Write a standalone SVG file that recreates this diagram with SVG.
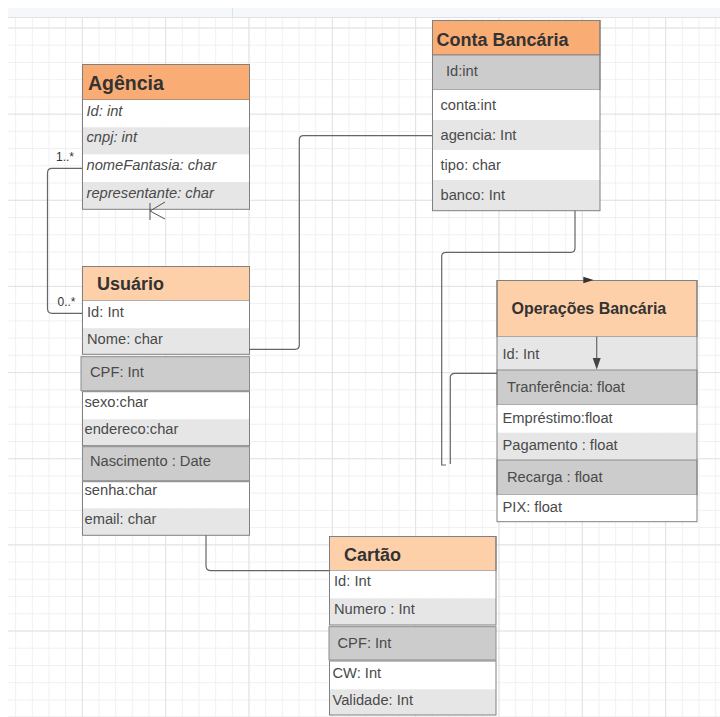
<svg xmlns="http://www.w3.org/2000/svg" width="720" height="717" viewBox="0 0 720 717">
<style>
.hd{font-family:"Liberation Sans",Arial,sans-serif;font-weight:bold;fill:#333;}
.at{font-family:"Liberation Sans",Arial,sans-serif;font-size:14.7px;fill:#4a4a4a;}
.it{font-style:italic;}
.lb{font-family:"Liberation Sans",Arial,sans-serif;font-size:12px;fill:#333;}
.box{fill:none;stroke:#808080;stroke-width:1;}
.hs{fill:#f9ac74;stroke:#777;}
.hp{fill:#fed0a9;stroke:#777;}
.w{fill:#ffffff;}
.g1{fill:#e6e6e6;}
.g2{fill:#cccccc;stroke:#8c8c8c;}
.cn{fill:none;stroke:#666;stroke-width:1.2;}
</style>
<defs>
<pattern id="minor" x="15.17" y="27.5" width="16.667" height="17.229" patternUnits="userSpaceOnUse">
<path d="M0.5,0 V17.229 M0,0.5 H16.667" stroke="#f0f0f0" stroke-width="1" fill="none"/>
</pattern>
<pattern id="major" x="81.8" y="27.5" width="83.333" height="86.146" patternUnits="userSpaceOnUse">
<path d="M0.5,0 V86.146 M0,0.5 H83.333" stroke="#e2e2e2" stroke-width="1" fill="none"/>
</pattern>
</defs>
<rect x="0" y="0" width="720" height="717" fill="#ffffff"/>
<rect x="8" y="17" width="712" height="700" fill="url(#minor)"/>
<rect x="8" y="17" width="712" height="700" fill="url(#major)"/>
<rect x="8" y="8" width="712" height="9" fill="#f5f7fa"/>
<line x1="8" y1="17.5" x2="720" y2="17.5" stroke="#dfe3e8"/>
<line x1="232.5" y1="8" x2="232.5" y2="17" stroke="#dfe3e8"/>

<g id="agencia">
<rect class="hs" x="82.5" y="64.5" width="167" height="35.5"/>
<rect class="w" x="82.5" y="100" width="167" height="27.3"/>
<rect class="g1" x="82.5" y="127.3" width="167" height="27.3"/>
<rect class="w" x="82.5" y="154.6" width="167" height="27.4"/>
<rect class="g1" x="82.5" y="182" width="167" height="27.3"/>
<rect class="box" x="82.5" y="64.5" width="167" height="144.8"/>
<text class="hd" x="88" y="90" font-size="19.5">Agência</text>
<text class="at it" x="86.5" y="116">Id: int</text>
<text class="at it" x="86.5" y="142">cnpj: int</text>
<text class="at it" x="86.5" y="170">nomeFantasia: char</text>
<text class="at it" x="86.5" y="197.5">representante: char</text>
</g>

<g id="usuario">
<rect class="hp" x="82.5" y="266.5" width="167" height="34.2"/>
<rect class="w" x="82.5" y="300.7" width="167" height="27.5"/>
<rect class="g1" x="82.5" y="328.2" width="167" height="26.1"/>
<rect class="box" x="82.5" y="266.5" width="167" height="87.8"/>
<rect class="g2" x="81" y="356.7" width="168.5" height="34"/>
<rect class="w" x="82.5" y="391.7" width="167" height="27.6"/>
<rect class="g1" x="82.5" y="419.3" width="167" height="26.4"/>
<rect class="box" x="82.5" y="391.7" width="167" height="54"/>
<rect class="g2" x="82.5" y="446.7" width="167" height="34"/>
<rect class="w" x="82.5" y="481.7" width="167" height="26.6"/>
<rect class="g1" x="82.5" y="508.3" width="167" height="27"/>
<rect class="box" x="82.5" y="481.7" width="167" height="53.6"/>
<text class="hd" x="97" y="290" font-size="18">Usuário</text>
<text class="at" x="87" y="316.5">Id: Int</text>
<text class="at" x="87" y="344">Nome: char</text>
<text class="at" x="90" y="377">CPF: Int</text>
<text class="at" x="84.5" y="407">sexo:char</text>
<text class="at" x="84.5" y="434">endereco:char</text>
<text class="at" x="90" y="466">Nascimento : Date</text>
<text class="at" x="84.5" y="495">senha:char</text>
<text class="at" x="84.5" y="523.5">email: char</text>
</g>

<g id="conta-bancaria">
<rect class="hs" x="432.5" y="20.5" width="167.5" height="34.5"/>
<rect class="g2" x="432.5" y="55" width="167.5" height="35"/>
<rect class="w" x="432.5" y="90" width="167.5" height="30"/>
<rect class="g1" x="432.5" y="120" width="167.5" height="30"/>
<rect class="w" x="432.5" y="150" width="167.5" height="30"/>
<rect class="g1" x="432.5" y="180" width="167.5" height="30.7"/>
<rect class="box" x="432.5" y="20.5" width="167.5" height="190.2"/>
<text class="hd" x="436.5" y="46" font-size="18">Conta Bancária</text>
<text class="at" x="446" y="76">Id:int</text>
<text class="at" x="440.5" y="110">conta:int</text>
<text class="at" x="440.5" y="140">agencia: Int</text>
<text class="at" x="440.5" y="169.5">tipo: char</text>
<text class="at" x="440.5" y="199.5">banco: Int</text>
</g>

<g id="operacoes-bancaria">
<rect class="hp" x="497" y="280.5" width="200" height="56.2"/>
<rect class="g1" x="497" y="336.7" width="200" height="33.3"/>
<rect class="g2" x="497" y="370" width="200" height="35"/>
<rect class="w" x="497" y="405" width="200" height="27.7"/>
<rect class="g1" x="497" y="432.7" width="200" height="27.3"/>
<rect class="g2" x="497" y="460" width="200" height="35"/>
<rect class="w" x="497" y="495" width="200" height="26.7"/>
<rect class="box" x="497" y="280.5" width="200" height="241.2"/>
<text class="hd" x="511.5" y="313.5" font-size="16">Operações Bancária</text>
<text class="at" x="502.5" y="358.5">Id: Int</text>
<text class="at" x="507" y="392">Tranferência: float</text>
<text class="at" x="502.5" y="423">Empréstimo:float</text>
<text class="at" x="502.5" y="450">Pagamento : float</text>
<text class="at" x="507" y="482">Recarga : float</text>
<text class="at" x="502.5" y="512">PIX: float</text>
</g>

<g id="cartao">
<rect class="hp" x="329.5" y="536.5" width="166.5" height="34.2"/>
<rect class="w" x="329.5" y="570.7" width="166.5" height="27.6"/>
<rect class="g1" x="329.5" y="598.3" width="166.5" height="26.7"/>
<rect class="box" x="329.5" y="536.5" width="166.5" height="88.5"/>
<rect class="g2" x="329" y="626.7" width="167" height="33.3"/>
<rect class="w" x="329.5" y="661" width="166.5" height="28.3"/>
<rect class="g1" x="329.5" y="689.3" width="166.5" height="25.7"/>
<rect class="box" x="329.5" y="661" width="166.5" height="54"/>
<text class="hd" x="344" y="561" font-size="18">Cartão</text>
<text class="at" x="334" y="586">Id: Int</text>
<text class="at" x="334" y="613.5">Numero : Int</text>
<text class="at" x="337.5" y="647.5">CPF: Int</text>
<text class="at" x="332.5" y="678">CW: Int</text>
<text class="at" x="332.5" y="705">Validade: Int</text>
</g>

<g id="connectors">
<path class="cn" d="M82,168.3 H52 Q47.5,168.3 47.5,173 V308.5 Q47.5,313.3 52,313.3 H82"/>
<path d="M150,203 V220 M165,202 L150,211 L165,219" fill="none" stroke="#555" stroke-width="1"/>
<path class="cn" d="M249,349.3 H295 Q299.3,349.3 299.3,345 V140 Q299.3,135.7 303.5,135.7 H432"/>
<path class="cn" d="M575,210.7 V248 Q575,252.3 571,252.3 H446 Q441.7,252.3 441.7,256.5 V465 H446"/>
<path class="cn" d="M497,373.3 H455 Q450.3,373.3 450.3,377.5 V464"/>
<path class="cn" d="M596.7,336.7 V360"/>
<polygon points="592.7,358 600.7,358 596.7,369.5" fill="#444"/>
<polygon points="583.3,276.7 593.5,280 583.3,283.3" fill="#333"/>
<path class="cn" d="M206,535.3 V566 Q206,570.7 211,570.7 H329.5"/>
<text class="lb" x="56" y="161">1..*</text>
<text class="lb" x="57.5" y="305.5">0..*</text>
</g>
</svg>
